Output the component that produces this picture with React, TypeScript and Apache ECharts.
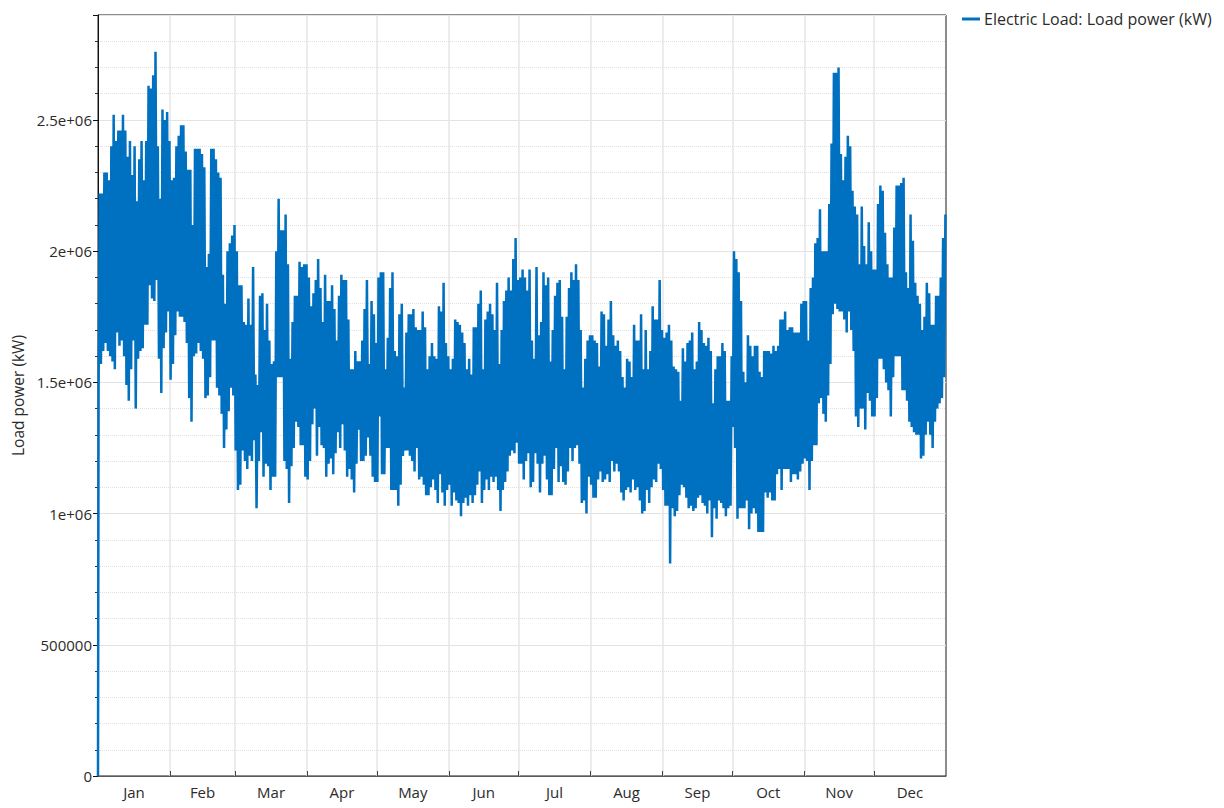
import React, { useEffect, useRef } from "react";
import * as echarts from "echarts";

// Month names and lengths (non-leap year)
const monthNames = ["Jan", "Feb", "Mar", "Apr", "May", "Jun", "Jul", "Aug", "Sep", "Oct", "Nov", "Dec"];
const monthDays = [31, 28, 31, 30, 31, 30, 31, 31, 30, 31, 30, 31];

// First recorded hour of the year (kW)
const firstHourLoad = 0;

// Daily maximum load, in millions of kW, Jan..Dec
const dailyHighMkW = [
  2.22, 2.22, 2.30, 2.30, 2.27, 2.40, 2.52, 2.42, 2.46, 2.46, 2.52, 2.46, 2.36, 2.42, 2.29, 2.40, 2.19, 2.35, 2.42, 2.27, 2.42, 2.63, 2.62, 2.67, 2.76, 2.40, 2.20, 2.54, 2.50, 2.53, 2.42,
  2.27, 2.28, 2.40, 2.44, 2.48, 2.48, 2.38, 2.31, 2.31, 2.10, 2.39, 2.39, 2.39, 2.37, 2.32, 1.94, 1.99, 2.39, 2.39, 2.35, 2.30, 2.28, 1.91, 1.80, 2.00, 2.03, 2.06, 2.10,
  2.00, 1.87, 1.87, 1.73, 1.72, 1.82, 1.72, 1.94, 1.53, 1.49, 1.83, 1.84, 1.70, 1.80, 1.66, 1.57, 1.58, 2.00, 2.20, 2.08, 2.08, 2.14, 1.95, 1.59, 1.73, 1.83, 1.83, 1.96, 1.94, 1.95, 1.95,
  1.90, 1.79, 1.84, 1.89, 1.97, 1.86, 1.73, 1.91, 1.81, 1.81, 1.87, 1.78, 1.66, 1.83, 1.91, 1.89, 1.89, 1.74, 1.55, 1.55, 1.62, 1.58, 1.58, 1.66, 1.78, 1.89, 1.57, 1.81, 1.76, 1.65,
  1.90, 1.92, 1.92, 1.55, 1.67, 1.86, 1.92, 1.62, 1.60, 1.76, 1.80, 1.48, 1.69, 1.76, 1.76, 1.78, 1.71, 1.70, 1.70, 1.77, 1.71, 1.55, 1.60, 1.65, 1.60, 1.59, 1.79, 1.77, 1.88, 1.65, 1.60,
  1.55, 1.59, 1.74, 1.73, 1.72, 1.69, 1.65, 1.55, 1.59, 1.53, 1.71, 1.71, 1.80, 1.85, 1.55, 1.74, 1.77, 1.80, 1.76, 1.70, 1.88, 1.57, 1.70, 1.81, 1.85, 1.90, 1.85, 1.97, 2.05, 1.89,
  1.90, 1.93, 1.90, 1.85, 1.93, 1.66, 1.59, 1.94, 1.68, 1.73, 1.92, 1.87, 1.90, 1.58, 1.70, 1.83, 1.88, 1.89, 1.75, 1.55, 1.75, 1.86, 1.92, 1.89, 1.95, 1.89, 1.70, 1.48, 1.59, 1.66, 1.68,
  1.68, 1.66, 1.65, 1.56, 1.77, 1.76, 1.64, 1.74, 1.81, 1.68, 1.64, 1.66, 1.62, 1.52, 1.48, 1.59, 1.58, 1.52, 1.72, 1.66, 1.66, 1.76, 1.55, 1.70, 1.55, 1.62, 1.79, 1.74, 1.74, 1.89, 1.70,
  1.67, 1.69, 1.72, 1.66, 1.56, 1.55, 1.54, 1.43, 1.63, 1.58, 1.65, 1.66, 1.69, 1.55, 1.58, 1.73, 1.70, 1.65, 1.64, 1.67, 1.62, 1.42, 1.55, 1.60, 1.60, 1.65, 1.62, 1.43, 1.43, 1.60,
  2.00, 1.97, 1.92, 1.81, 1.54, 1.50, 1.68, 1.64, 1.60, 1.64, 1.64, 1.54, 1.52, 1.62, 1.62, 1.62, 1.61, 1.64, 1.62, 1.64, 1.74, 1.74, 1.77, 1.70, 1.71, 1.71, 1.69, 1.69, 1.69, 1.80, 1.81,
  1.81, 1.66, 1.86, 1.90, 2.03, 2.05, 2.16, 2.00, 2.00, 2.00, 2.18, 2.41, 2.68, 2.68, 2.70, 2.37, 2.27, 2.36, 2.44, 2.40, 2.23, 2.17, 2.14, 1.95, 2.17, 2.02, 1.95, 2.11, 2.00, 1.93,
  1.93, 2.18, 2.25, 2.23, 2.07, 1.95, 1.90, 1.90, 2.09, 2.25, 2.25, 2.26, 2.28, 1.92, 1.86, 2.14, 2.04, 1.88, 1.83, 1.80, 1.70, 1.75, 1.88, 1.84, 1.72, 1.72, 1.83, 1.83, 1.90, 2.05, 2.14,
];

// Daily minimum load, in millions of kW, Jan..Dec
const dailyLowMkW = [
  1.47, 1.57, 1.62, 1.65, 1.62, 1.60, 1.58, 1.55, 1.69, 1.64, 1.66, 1.60, 1.49, 1.43, 1.55, 1.66, 1.40, 1.59, 1.62, 1.63, 1.72, 1.72, 1.87, 1.82, 1.81, 1.89, 1.59, 1.46, 1.63, 1.69, 1.77,
  1.51, 1.57, 1.68, 1.77, 1.75, 1.75, 1.73, 1.65, 1.44, 1.35, 1.60, 1.61, 1.65, 1.62, 1.59, 1.44, 1.45, 1.52, 1.66, 1.66, 1.48, 1.45, 1.38, 1.25, 1.32, 1.39, 1.48, 1.45,
  1.24, 1.09, 1.11, 1.24, 1.20, 1.17, 1.22, 1.20, 1.28, 1.02, 1.20, 1.31, 1.14, 1.19, 1.18, 1.09, 1.14, 1.14, 1.52, 1.52, 1.52, 1.20, 1.17, 1.04, 1.18, 1.25, 1.35, 1.33, 1.26, 1.26, 1.14,
  1.13, 1.20, 1.34, 1.40, 1.22, 1.33, 1.26, 1.25, 1.14, 1.19, 1.21, 1.15, 1.23, 1.31, 1.25, 1.34, 1.24, 1.14, 1.17, 1.13, 1.08, 1.19, 1.32, 1.20, 1.20, 1.22, 1.29, 1.22, 1.14, 1.12,
  1.12, 1.37, 1.15, 1.15, 1.25, 1.25, 1.09, 1.09, 1.09, 1.03, 1.11, 1.22, 1.24, 1.24, 1.22, 1.20, 1.16, 1.25, 1.13, 1.14, 1.11, 1.07, 1.07, 1.10, 1.13, 1.09, 1.04, 1.15, 1.08, 1.03, 1.09,
  1.11, 1.03, 1.08, 1.05, 1.04, 0.99, 1.04, 1.06, 1.03, 1.07, 1.04, 1.07, 1.11, 1.16, 1.04, 1.09, 1.13, 1.09, 1.14, 1.12, 1.14, 1.09, 1.01, 1.09, 1.12, 1.16, 1.22, 1.24, 1.23, 1.27,
  1.19, 1.19, 1.13, 1.20, 1.23, 1.10, 1.12, 1.23, 1.19, 1.08, 1.19, 1.22, 1.13, 1.07, 1.07, 1.17, 1.25, 1.12, 1.18, 1.12, 1.11, 1.16, 1.25, 1.20, 1.25, 1.26, 1.19, 1.04, 1.05, 1.00, 1.14,
  1.11, 1.06, 1.06, 1.13, 1.16, 1.12, 1.13, 1.15, 1.12, 1.20, 1.16, 1.19, 1.16, 1.08, 1.05, 1.09, 1.10, 1.08, 1.13, 1.09, 1.10, 1.05, 1.00, 1.01, 1.09, 1.04, 1.10, 1.13, 1.12, 1.19, 1.17,
  1.09, 1.03, 1.03, 0.81, 1.02, 0.99, 1.01, 1.07, 1.11, 1.10, 1.06, 1.02, 1.03, 1.01, 1.02, 1.06, 1.07, 1.04, 1.03, 1.00, 1.05, 0.91, 1.02, 0.98, 1.05, 1.04, 1.02, 0.99, 1.02, 1.03,
  1.33, 1.25, 0.98, 1.02, 1.02, 1.02, 1.05, 0.94, 1.00, 1.02, 1.00, 0.93, 0.93, 0.93, 1.08, 1.06, 1.08, 1.05, 1.05, 1.15, 1.17, 1.09, 1.17, 1.17, 1.17, 1.12, 1.15, 1.15, 1.13, 1.16, 1.19,
  1.21, 1.20, 1.09, 1.20, 1.26, 1.26, 1.42, 1.44, 1.38, 1.35, 1.45, 1.57, 1.76, 1.80, 1.78, 1.77, 1.77, 1.74, 1.69, 1.77, 1.70, 1.62, 1.37, 1.33, 1.40, 1.40, 1.32, 1.46, 1.43, 1.37,
  1.37, 1.44, 1.59, 1.59, 1.55, 1.50, 1.47, 1.37, 1.52, 1.60, 1.60, 1.60, 1.47, 1.47, 1.43, 1.35, 1.33, 1.31, 1.30, 1.30, 1.21, 1.22, 1.30, 1.35, 1.30, 1.25, 1.35, 1.40, 1.42, 1.44, 1.52,
];

const yTickValues = [0, 500000, 1000000, 1500000, 2000000, 2500000];
const seriesName = "Electric Load: Load power (kW)";
const yAxisTitle = "Load power (kW)";

function formatG(v: number): string {
  if (v === 0) return "0";
  if (Math.abs(v) < 1e6) return String(v);
  const exp = Math.floor(Math.log10(Math.abs(v)));
  const mant = v / Math.pow(10, exp);
  const m = parseFloat(mant.toFixed(5)).toString();
  return m + "e+" + String(exp).padStart(2, "0");
}

export default function App() {
  const ref = useRef<HTMLDivElement>(null);

  useEffect(() => {
    if (!ref.current) return;
    const chart = echarts.init(ref.current, null, { renderer: "svg" });

    // zig-zag hourly-like trace: each day goes through its low and its high
    const data: number[][] = [[0, firstHourLoad]];
    const nDays = Math.min(dailyHighMkW.length, dailyLowMkW.length);
    for (let d = 0; d < nDays; d++) {
      data.push([d + 0.25, dailyLowMkW[d] * 1e6]);
      data.push([d + 0.75, dailyHighMkW[d] * 1e6]);
    }
    const totalDays = monthDays.reduce((a, b) => a + b, 0);

    // half-day category axis for month grid and centered labels
    const nCat = totalDays * 2 + 1;
    const catData: string[] = new Array(nCat).fill("");
    const boundaries = new Set<number>();
    let start = 0;
    monthDays.forEach((len, i) => {
      if (start > 0) boundaries.add(start * 2);
      catData[start * 2 + len] = monthNames[i];
      start += len;
    });

    const font = "'Open Sans', 'Noto Sans', sans-serif";
    const textColor = "#2b2b2b";

    chart.setOption({
      animation: false,
      backgroundColor: "#ffffff",
      textStyle: { fontFamily: font },
      grid: {
        left: 98,
        right: 278,
        top: 15,
        bottom: 32,
        show: true,
        borderColor: "#1a1a1a",
        borderWidth: 1,
        backgroundColor: "transparent",
      },
      legend: {
        show: true,
        left: 957,
        top: 6,
        icon: "rect",
        itemWidth: 18,
        itemHeight: 3,
        itemGap: 6,
        textStyle: { fontSize: 16, color: textColor, fontFamily: font, padding: [0, 0, 0, -1] },
        data: [seriesName],
      },
      xAxis: [
        {
          type: "value",
          min: 0,
          max: totalDays,
          show: false,
        },
        {
          type: "category",
          data: catData,
          boundaryGap: false,
          position: "bottom",
          axisLine: { show: true, lineStyle: { color: "#5a5a5a", width: 1 } },
          axisTick: {
            show: true,
            inside: true,
            length: 5,
            interval: (idx: number) => boundaries.has(idx),
            lineStyle: { color: "#444" },
          },
          axisLabel: {
            show: true,
            interval: (idx: number, val: string) => val !== "",
            margin: 8,
            fontSize: 15,
            color: textColor,
            fontFamily: font,
          },
          splitLine: {
            show: true,
            interval: (idx: number) => boundaries.has(idx),
            lineStyle: { color: "#e6e6e6", width: 1.5 },
          },
        },
      ],
      yAxis: {
        type: "value",
        min: 0,
        max: 2900000,
        interval: 500000,
        name: yAxisTitle,
        nameLocation: "middle",
        nameGap: 72,
        nameTextStyle: { fontSize: 15.5, color: textColor, fontFamily: font },
        axisLine: { show: true, lineStyle: { color: "#111", width: 1 } },
        axisTick: { show: true, inside: false, length: 5, lineStyle: { color: "#111" } },
        minorTick: { show: true, splitNumber: 5, length: 3, lineStyle: { color: "#333" } },
        axisLabel: {
          margin: 6,
          fontSize: 15,
          color: textColor,
          fontFamily: font,
          showMaxLabel: false,
          formatter: (v: number) => (yTickValues.indexOf(v) >= 0 ? formatG(v) : ""),
        },
        splitLine: { show: true, lineStyle: { color: "#e3e3e3", width: 1.2 } },
        minorSplitLine: { show: true, lineStyle: { color: "#e0e0e0", type: "dotted", width: 1 } },
      },
      series: [
        {
          name: seriesName,
          type: "line",
          xAxisIndex: 0,
          data,
          showSymbol: false,
          symbol: "none",
          lineStyle: { color: "#0070c0", width: 2.5, join: "miter" },
          itemStyle: { color: "#0070c0" },
        },
      ],
    });

    return () => chart.dispose();
  }, []);

  return (
    <div
      ref={ref}
      style={{ position: "fixed", left: 0, top: 0, width: 1224, height: 808 }}
    />
  );
}
